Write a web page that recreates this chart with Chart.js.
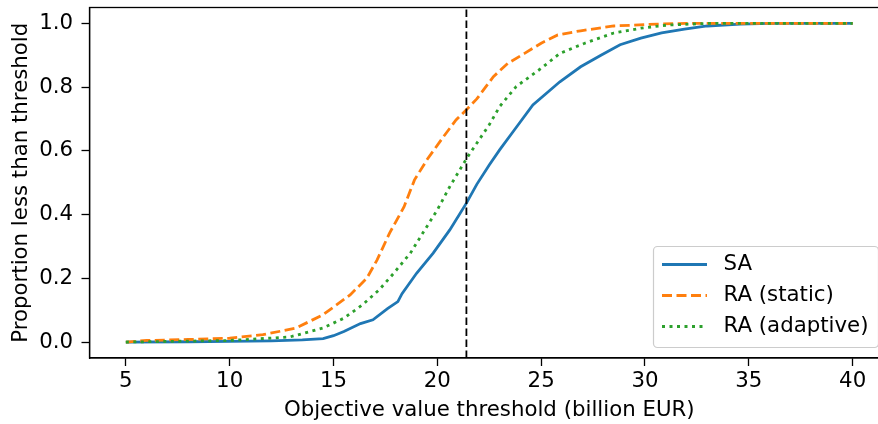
<!DOCTYPE html>
<html>
<head>
<meta charset="utf-8">
<script src="https://cdn.jsdelivr.net/npm/chart.js@4.4.1/dist/chart.umd.min.js"></script>
<style>
  html, body { margin: 0; padding: 0; background: #fff; overflow: hidden; }
  #wrap { width: 900px; height: 424px; }
</style>
</head>
<body>
<div id="wrap"><canvas id="cdf" width="900" height="424"></canvas></div>
<script>
// valores
const saX = [5, 8, 10, 12, 13.5, 14.5, 15, 15.5, 16.3, 16.9, 17.6, 18.1, 18.3, 19.0, 19.8, 20.6, 21.4, 21.9, 22.5, 23.0, 23.6, 24.6, 25.9, 26.9, 27.9, 28.8, 29.8, 30.8, 31.9, 33.0, 34.6, 36, 40];
const saY = [0, 0.001, 0.002, 0.004, 0.007, 0.011, 0.02, 0.033, 0.058, 0.07, 0.105, 0.127, 0.152, 0.216, 0.279, 0.352, 0.436, 0.495, 0.556, 0.603, 0.656, 0.744, 0.817, 0.864, 0.901, 0.933, 0.954, 0.97, 0.982, 0.992, 0.998, 1.0, 1.0];

const staticX = [5, 6, 8, 10, 11.6, 13.2, 14.5, 15.8, 16.6, 17.1, 17.7, 18.4, 18.9, 19.5, 20.3, 20.9, 21.4, 21.9, 22.7, 23.4, 24.2, 25.0, 25.8, 26.9, 28.5, 30.6, 32, 40];
const staticY = [0, 0.005, 0.008, 0.012, 0.023, 0.044, 0.086, 0.148, 0.2, 0.258, 0.342, 0.425, 0.509, 0.572, 0.645, 0.697, 0.729, 0.763, 0.833, 0.875, 0.906, 0.938, 0.964, 0.977, 0.992, 0.998, 1.0, 1.0];

const adaptX = [5, 8, 10, 12.9, 14.5, 15.5, 16.4, 17.2, 17.9, 18.7, 19.3, 20.0, 20.6, 21.4, 21.9, 22.5, 23.0, 23.8, 25.0, 25.9, 27.1, 28.5, 29.8, 31.1, 33, 40];
const adaptY = [0, 0.003, 0.005, 0.016, 0.044, 0.075, 0.117, 0.164, 0.216, 0.279, 0.342, 0.415, 0.488, 0.575, 0.624, 0.682, 0.739, 0.802, 0.859, 0.906, 0.938, 0.97, 0.985, 0.995, 1.0, 1.0];

const threshold = 21.4;
const xTicks = [5, 10, 15, 20, 25, 30, 35, 40];
const yTicks = [0, 0.2, 0.4, 0.6, 0.8, 1.0];
const seriesNames = ["SA", "RA (static)", "RA (adaptive)"];

const FONT = "'DejaVu Sans', sans-serif";
const FS = 21.3;
Chart.defaults.font.family = FONT;
Chart.defaults.font.size = FS;
Chart.defaults.color = "#000";

const pts = (xs, ys) => xs.map((x, i) => ({ x, y: ys[i] }));

const estilos = [
  { color: "#1f77b4", dash: [] },
  { color: "#ff7f0e", dash: [10, 4.5] },
  { color: "#2ca02c", dash: [3, 4.5] }
];

// marco superior/derecho y leyenda dentro del área
const marcoLeyenda = {
  id: "marcoLeyenda",
  afterDatasetsDraw(chart) {
    const { ctx, chartArea: a } = chart;
    ctx.save();
    ctx.strokeStyle = "#000";
    ctx.lineWidth = 1.3;
    ctx.strokeRect(a.left, a.top, a.right - a.left, a.bottom - a.top);

    const w = 225, h = 101;
    const bx = a.right - 10.5 - w, by = a.bottom - 10.5 - h;
    ctx.beginPath();
    ctx.roundRect(bx, by, w, h, 4);
    ctx.fillStyle = "rgba(255,255,255,0.8)";
    ctx.fill();
    ctx.strokeStyle = "#cccccc";
    ctx.lineWidth = 1.2;
    ctx.stroke();

    seriesNames.forEach((name, i) => {
      const cy = by + 18 + i * 31;
      ctx.beginPath();
      ctx.setLineDash(estilos[i].dash);
      ctx.strokeStyle = estilos[i].color;
      ctx.lineWidth = 2.8;
      ctx.moveTo(bx + 8.5, cy);
      ctx.lineTo(bx + 53.5, cy);
      ctx.stroke();
      ctx.setLineDash([]);
      ctx.fillStyle = "#000";
      ctx.font = FS + "px " + FONT;
      ctx.textBaseline = "middle";
      ctx.textAlign = "left";
      ctx.fillText(name, bx + 70, cy);
    });
    ctx.restore();
  }
};

const datasets = [
  { label: seriesNames[0], data: pts(saX, saY), order: 4 },
  { label: seriesNames[1], data: pts(staticX, staticY), order: 3 },
  { label: seriesNames[2], data: pts(adaptX, adaptY), order: 2 }
].map((d, i) => ({
  ...d,
  borderColor: estilos[i].color,
  borderDash: estilos[i].dash,
  borderWidth: 2.8,
  pointRadius: 0,
  tension: 0,
  fill: false
}));

datasets.push({
  label: "threshold",
  data: [{ x: threshold, y: -0.05 }, { x: threshold, y: 1.05 }],
  borderColor: "#000",
  borderDash: [7.5, 3.5],
  borderWidth: 1.8,
  pointRadius: 0,
  order: 1
});

new Chart(document.getElementById("cdf"), {
  type: "line",
  data: { datasets },
  options: {
    responsive: false,
    devicePixelRatio: 1,
    animation: false,
    layout: { padding: { left: 0, top: 7.5, right: 11, bottom: 0 } },
    plugins: { legend: { display: false }, tooltip: { enabled: false } },
    scales: {
      x: {
        type: "linear",
        min: 3.25,
        max: 41.75,
        afterBuildTicks: s => { s.ticks = xTicks.map(v => ({ value: v })); },
        afterFit: s => { s.height = 66; s.paddingLeft = 0; s.paddingRight = 0; },
        ticks: { padding: 3, callback: v => String(v) },
        grid: { drawOnChartArea: false, drawTicks: true, tickLength: 8, tickWidth: 1.3, tickColor: "#000" },
        border: { display: true, color: "#000", width: 1.3 },
        title: { display: true, text: "Objective value threshold (billion EUR)", padding: { top: 0, bottom: 1 } }
      },
      y: {
        type: "linear",
        min: -0.05,
        max: 1.05,
        afterBuildTicks: s => { s.ticks = yTicks.map(v => ({ value: v })); },
        afterFit: s => { s.width = 89.5; s.paddingTop = 0; s.paddingBottom = 0; },
        ticks: { padding: 8.5, callback: v => v.toFixed(1) },
        grid: { drawOnChartArea: false, drawTicks: true, tickLength: 8, tickWidth: 1.3, tickColor: "#000" },
        border: { display: true, color: "#000", width: 1.3 },
        title: { display: true, text: "Proportion less than threshold", padding: { top: 9, bottom: 0 } }
      }
    }
  },
  plugins: [marcoLeyenda]
});
</script>
</body>
</html>
